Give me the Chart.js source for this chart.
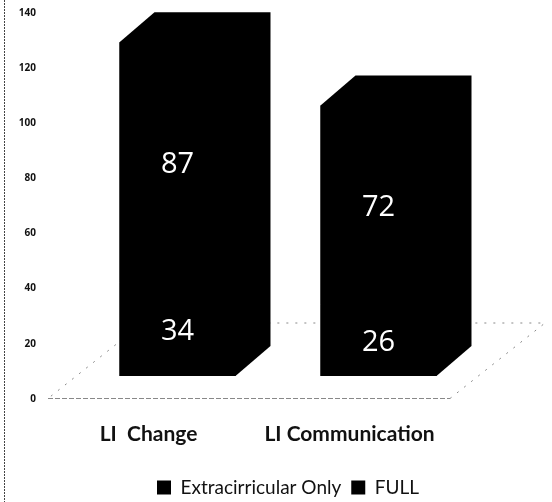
<!DOCTYPE html>
<html>
<head>
<meta charset="utf-8">
<style>
  body { margin: 0; background: #fff; }
  canvas { display: block; }
</style>
<script src="https://cdn.jsdelivr.net/npm/chart.js@4/dist/chart.umd.min.js"></script>
</head>
<body>
<canvas id="chart" width="552" height="502"></canvas>
<script>
const categories = ['LI  Change', 'LI Communication'];
const extracurricularOnly = [34, 26];
const full = [87, 72];
const yTicks = [0, 20, 40, 60, 80, 100, 120, 140];

const barColor = '#000';
// The fake 3D look: front faces sit up and right of the axis, then depth goes back
const frontShift = { x: 29, y: -23 };
const depth = { x: 35, y: -30 };
const floorDepth = { x: 95, y: -76 };

const fake3d = {
    id: 'fake3d',
    beforeDraw(chart) {
        const { ctx, chartArea: a } = chart;
        ctx.save();
        // Scan line on the left edge
        ctx.strokeStyle = '#444';
        ctx.lineWidth = 1;
        ctx.setLineDash([2, 1]);
        ctx.beginPath();
        ctx.moveTo(4.5, 0);
        ctx.lineTo(4.5, 502);
        ctx.stroke();
        // Floor of the chart
        ctx.strokeStyle = '#888';
        ctx.setLineDash([5, 2]);
        ctx.beginPath();
        ctx.moveTo(a.left, a.bottom - 0.5);
        ctx.lineTo(a.right, a.bottom - 0.5);
        ctx.stroke();
        ctx.setLineDash([2, 7]);
        ctx.beginPath();
        ctx.moveTo(a.right, a.bottom - 0.5);
        ctx.lineTo(a.right + floorDepth.x, a.bottom + floorDepth.y);
        ctx.lineTo(a.left + floorDepth.x, a.bottom + floorDepth.y);
        ctx.lineTo(a.left, a.bottom - 0.5);
        ctx.stroke();
        ctx.restore();
    },
    beforeDatasetsDraw(chart) {
        const { ctx } = chart;
        const lower = chart.getDatasetMeta(0).data;
        const upper = chart.getDatasetMeta(1).data;
        ctx.save();
        ctx.translate(frontShift.x, frontShift.y);
        ctx.fillStyle = barColor;
        lower.forEach((bar, i) => {
            const left = bar.x - bar.width / 2;
            const right = bar.x + bar.width / 2;
            const top = upper[i].y;
            const bottom = bar.base;
            // Goes under the front too, so no seam shows between the two stacked bars
            ctx.beginPath();
            ctx.moveTo(left, top);
            ctx.lineTo(left + depth.x, top + depth.y);
            ctx.lineTo(right + depth.x, top + depth.y);
            ctx.lineTo(right + depth.x, bottom + depth.y);
            ctx.lineTo(right, bottom);
            ctx.lineTo(left, bottom);
            ctx.closePath();
            ctx.fill();
        });
        ctx.restore();
    },
    beforeDatasetDraw(chart) {
        chart.ctx.save();
        chart.ctx.translate(frontShift.x, frontShift.y);
    },
    afterDatasetDraw(chart) {
        chart.ctx.restore();
    },
    afterDatasetsDraw(chart) {
        const { ctx } = chart;
        ctx.save();
        ctx.translate(frontShift.x, frontShift.y);
        ctx.fillStyle = '#fff';
        ctx.font = '29px "Open Sans"';
        ctx.textAlign = 'center';
        ctx.textBaseline = 'middle';
        chart.data.datasets.forEach((ds, d) => {
            chart.getDatasetMeta(d).data.forEach((bar, i) => {
                ctx.fillText(ds.data[i], bar.x, (bar.y + bar.base) / 2 + 3);
            });
        });
        ctx.restore();
    }
};

new Chart(document.getElementById('chart'), {
    type: 'bar',
    data: {
        labels: categories,
        datasets: [
            { label: 'Extracirricular Only', data: extracurricularOnly, backgroundColor: barColor },
            { label: 'FULL', data: full, backgroundColor: barColor }
        ]
    },
    plugins: [fake3d],
    options: {
        responsive: false,
        animation: false,
        // Negative right padding moves the centred legend to the right of the page centre
        layout: { padding: { top: 12.7, right: -24, bottom: -5, left: 0 } },
        datasets: { bar: { barPercentage: 0.577, categoryPercentage: 1, inflateAmount: 0 } },
        plugins: {
            tooltip: { enabled: false },
            legend: {
                position: 'bottom',
                labels: {
                    color: '#111',
                    boxWidth: 14,
                    boxHeight: 14,
                    padding: 10,
                    font: { family: 'Lato', size: 19 }
                }
            }
        },
        scales: {
            x: {
                stacked: true,
                grid: { display: false },
                border: { display: false },
                ticks: {
                    color: '#111',
                    padding: 15,
                    maxRotation: 0,
                    font: { family: 'Lato', size: 21, weight: 'bold' }
                },
                afterFit(axis) { axis.height = 69; }
            },
            y: {
                stacked: true,
                min: 0,
                max: 140,
                grid: { display: false },
                border: { display: false },
                afterBuildTicks(axis) { axis.ticks = yTicks.map(v => ({ value: v })); },
                ticks: {
                    color: '#111',
                    padding: 4,
                    font: { family: 'Open Sans', size: 10, weight: 'bold' }
                },
                afterFit(axis) { axis.width = 48; }
            },
            // Empty axis, only keeps the plot clear of the right side
            yRight: {
                position: 'right',
                grid: { display: false },
                border: { display: false },
                ticks: { display: false },
                afterFit(axis) { axis.width = 126; }
            }
        }
    }
});
</script>
</body>
</html>
